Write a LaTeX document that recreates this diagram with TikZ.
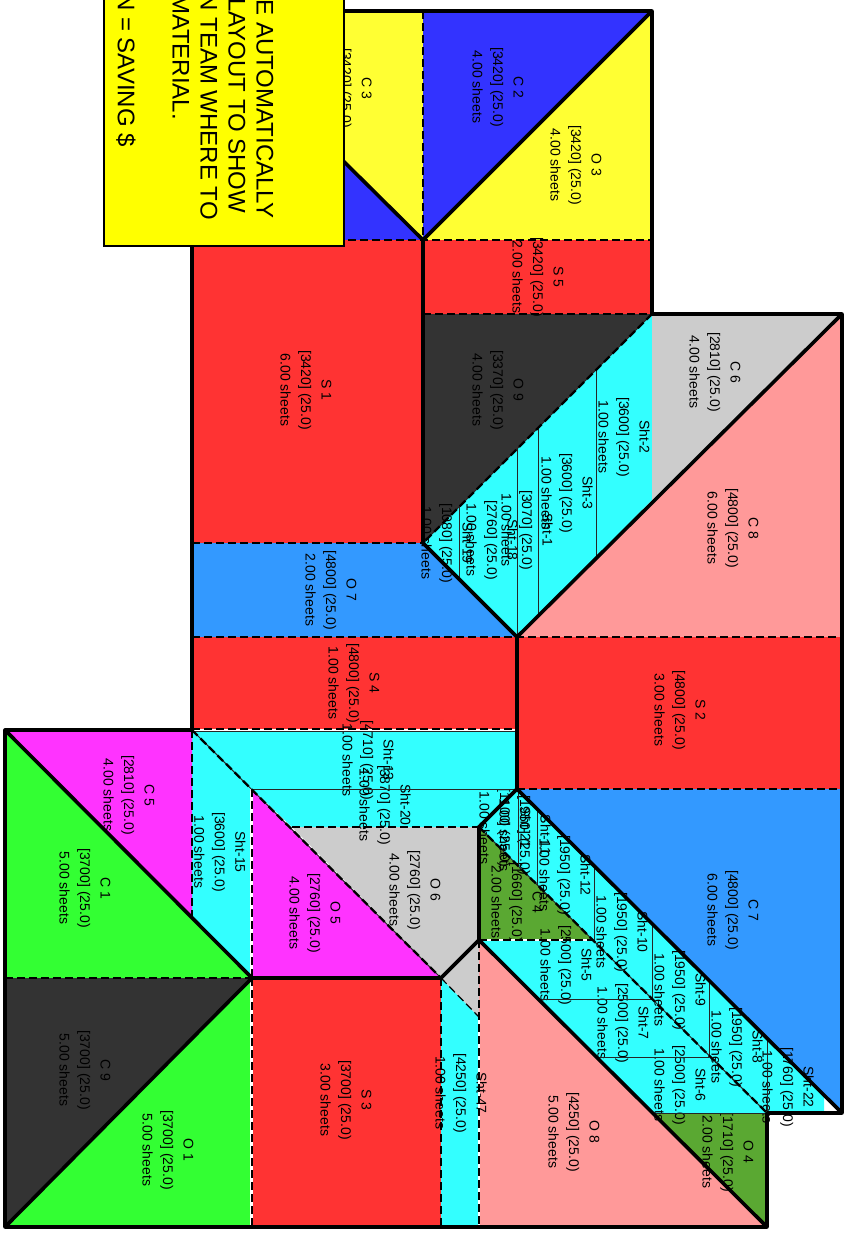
\documentclass[tikz,border=0pt]{standalone}
\usepackage{fontspec}
\setmainfont{Liberation Sans}
\definecolor{cutred}{HTML}{FF3333}
\definecolor{cutblue}{HTML}{3333FF}
\definecolor{cutyel}{HTML}{FFFF33}
\definecolor{cutdark}{HTML}{333333}
\definecolor{cutgray}{HTML}{CCCCCC}
\definecolor{cutpink}{HTML}{FF9999}
\definecolor{cutcyan}{HTML}{33FFFF}
\definecolor{cutmag}{HTML}{FF33FF}
\definecolor{cutgrn}{HTML}{33FF33}
\definecolor{cutolv}{HTML}{5AA832}
\definecolor{cutsky}{HTML}{3399FF}
\definecolor{noteyel}{HTML}{FFFF00}
\tikzset{
  lbl/.style={rotate=-90,align=center,inner sep=0pt,font=\fontsize{14}{20.5}\selectfont},
  pc/.style={fill=#1,draw=none},
  thk/.style={line width=3.6pt,line cap=round,line join=round},
  dsh/.style={line width=2.3pt,dash pattern=on 8pt off 4pt},
  thn/.style={line width=1pt,black!85},
  gap/.style={line width=2.5pt,white},
  note/.style={rotate=-90,anchor=east,inner sep=0pt,font=\fontsize{24}{24}\selectfont},
}
\begin{document}
\begin{tikzpicture}[x=1pt,y=-1pt]
 \useasboundingbox (0,0) rectangle (848,1236);
 \fill[pc=cutyel] (192,11)--(423,11)--(423,240)--cycle;
 \fill[pc=cutblue] (192,11)--(423,240)--(192,240)--cycle;
 \fill[pc=cutblue] (423,11)--(652,11)--(423,240)--cycle;
 \fill[pc=cutyel] (652,11)--(652,240)--(423,240)--cycle;
 \fill[pc=cutred] (192,240) rectangle (423,543);
 \fill[pc=cutred] (423,240) rectangle (652,314);
 \fill[pc=cutdark] (423,314)--(652,314)--(423,543)--cycle;
 \fill[pc=cutcyan] (652,314)--(652,500)--(517,637)--(423,543)--cycle;
 \fill[pc=cutgray] (652,314)--(842,314)--(652,500)--cycle;
 \fill[pc=cutpink] (842,314)--(842,637)--(517,637)--cycle;
 \fill[pc=cutsky] (192,543)--(423,543)--(517,637)--(192,637)--cycle;
 \fill[pc=cutred] (192,637) rectangle (517,729);
 \fill[pc=cutred] (517,637) rectangle (842,789);
 \fill[pc=cutsky] (517,789)--(842,789)--(842,1113)--cycle;
 \fill[pc=cutcyan] (517,789)--(824,1095)--(824,1113)--(767,1113)--(479,827)--cycle;
 \fill[pc=cutolv] (479,827)--(593,940)--(479,940)--cycle;
 \fill[pc=cutcyan] (479,940)--(593,940)--(767,1113)--(652,1113)--cycle;
 \fill[pc=cutolv] (652,1113)--(767,1113)--(767,1227)--cycle;
 \fill[pc=cutpink] (479,940)--(767,1227)--(479,1227)--cycle;
 \fill[pc=cutcyan] (192,731.5)--(517,731.5)--(517,789)--(250,789)--cycle;
 \fill[pc=cutcyan] (252,789)--(517,789)--(479,827)--(292,827)--cycle;
 \fill[pc=cutgray] (292,827)--(479,827)--(479,940)--(441,978)--cycle;
 \fill[pc=cutmag] (252,789)--(441,978)--(252,978)--cycle;
 \fill[pc=cutcyan] (192,730)--(250,789)--(250,978)--(192,918)--cycle;
 \fill[pc=cutmag] (5,730)--(192,730)--(192,918)--cycle;
 \fill[pc=cutgrn] (5,730)--(252,978)--(5,978)--cycle;
 \fill[pc=cutdark] (5,978)--(252,978)--(5,1227)--cycle;
 \fill[pc=cutgrn] (252,978)--(252,1227)--(5,1227)--cycle;
 \fill[pc=cutred] (252,978) rectangle (441,1227);
 \fill[pc=cutcyan] (441,978)--(479,1017)--(479,1227)--(441,1227)--cycle;
 \fill[pc=cutgray] (441,978)--(479,940)--(479,1017)--cycle;
 \foreach \nm/\px/\py/\ti/\sz/\qt in {c2/498/87/C 2/3420/4.00,o3/576/165/O 3/3420/4.00,s5/538/277/S 5/3420/2.00,s1/306/390/S 1/3420/6.00,o9/498/390/O 9/3370/4.00,
   c6/715/372/C 6/2810/4.00,c8/733/528/C 8/4800/6.00,sht2/624/437/Sht-2/3600/1.00,sht3/567/493/Sht-3/3600/1.00,sht1/527/530/Sht-1/3070/1.00,sht18/492/540/Sht-18/2760/1.00,sht19/447/543/Sht-19/1080/1.00,
   o7/331/590/O 7/4800/2.00,s4/354/683/S 4/4800/1.00,s2/680/710/S 2/4800/3.00,c7/733/910/C 7/4800/6.00,sht13/368/760/Sht-13/4710/1.00,sht20/385/805/Sht-20/3870/1.00,
   c5/129/795/C 5/2810/4.00,sht15/220/852/Sht-15/3600/1.00,o5/315/913/O 5/2760/4.00,o6/415/890/O 6/2760/4.00,c1/85/888/C 1/3700/5.00,c9/85/1070/C 9/3700/5.00,o1/168/1150/O 1/3700/5.00,s3/346/1100/S 3/3700/3.00,
   sht47/461/1093/Sht-47/4250/1.00,o8/574/1132/O 8/4250/5.00,c4/517/902/C 4/1660/2.00,sht11/525/835/Sht-11/1950/1.00,sht21/505/828/Sht-21/1100/1.00,sht12/565/875/Sht-12/1950/1.00,sht10/622/932/Sht-10/1950/1.00,
   sht9/680/990/Sht-9/1950/1.00,sht8/737/1047/Sht-8/1950/1.00,sht22/788/1087/Sht-22/1760/1.00,sht5/566/965/Sht-5/2500/1.00,sht7/623/1023/Sht-7/2500/1.00,sht6/680/1085/Sht-6/2500/1.00,o4/728/1152/O 4/1710/2.00}
   {\node[lbl] (\nm) at (\px,\py) {\ti\\{[\sz] (25.0)}\\\qt\ sheets};}
 \node[lbl] (c3) at (355,88) {C 3\\{[3420] (25.0)}};
 \draw[gap] (251.5,789)--(251.5,1227); \draw[gap] (192,729.8)--(517,729.8); \draw[gap] (479,1017)--(479,1227); \draw[gap] (479,940)--(593,940);
 \foreach \ax/\ay/\bx/\by in {596/370/596/557,538/428/538/614,517/449/517/637,459/507/459/579,537/809/537/885,518/790/518/866,594/866/594/942,652/924/652/1000,709/981/709/1057,767/1039/767/1113,538/999/652/999,596/1057/709/1057,652/1113/767/1113,252/789/517/789,192/731.5/517/731.5}
   {\draw[thn] (\ax,\ay)--(\bx,\by);}
 \foreach \ax/\ay/\bx/\by in {652/314/423/543,192/730/441/978,479/827/767/1113}
   {\draw[thn] (\ax,\ay)--(\bx,\by); \draw[dsh] (\ax,\ay)--(\bx,\by);}
 \foreach \ax/\ay/\bx/\by in {423/11/423/240,192/240/652/240,423/314/652/314,192/543/423/543,192/637/842/637,192/729/517/729,517/789/842/789,292/827/479/827,479/940/593/940,192/730/192/918,252/789/252/978,5/978/252/978,252/978/252/1227,441/978/441/1227,479/940/479/1227}
   {\draw[dsh] (\ax,\ay)--(\bx,\by);}
 \draw[dsh,line width=1.2pt] (441,978)--(479,1017);
 \draw[thk] (192,240)--(192,730)--(5,730)--(5,1227)--(767,1227)--(767,1113)--(842,1113)--(842,314)--(652,314)--(652,11)--(192,11);
 \foreach \ax/\ay/\bx/\by in {192/11/423/240,423/240/652/11,423/240/423/543,423/543/517/637,517/637/842/314,517/637/517/789,517/789/842/1113,517/789/479/827,479/827/479/940,479/940/441/978,479/940/767/1227,5/730/252/978,5/1227/252/978,252/978/441/978}
   {\draw[thk] (\ax,\ay)--(\bx,\by);}
 \node[draw=black,line width=2.4pt,fill=noteyel,minimum width=240pt,minimum height=256pt,inner sep=0pt] (notebox) at (224,118) {};
 \node[note] (l1) at (265,218.5) {E AUTOMATICALLY};
 \node[note] (l2) at (237,213.5) {LAYOUT TO SHOW};
 \node[note] (l3) at (209,220) {N TEAM WHERE TO};
 \node[note] (l4) at (181,120) {MATERIAL.};
 \node[note] (l5) at (126,147) {N = SAVING \$};
\end{tikzpicture}
\end{document}
